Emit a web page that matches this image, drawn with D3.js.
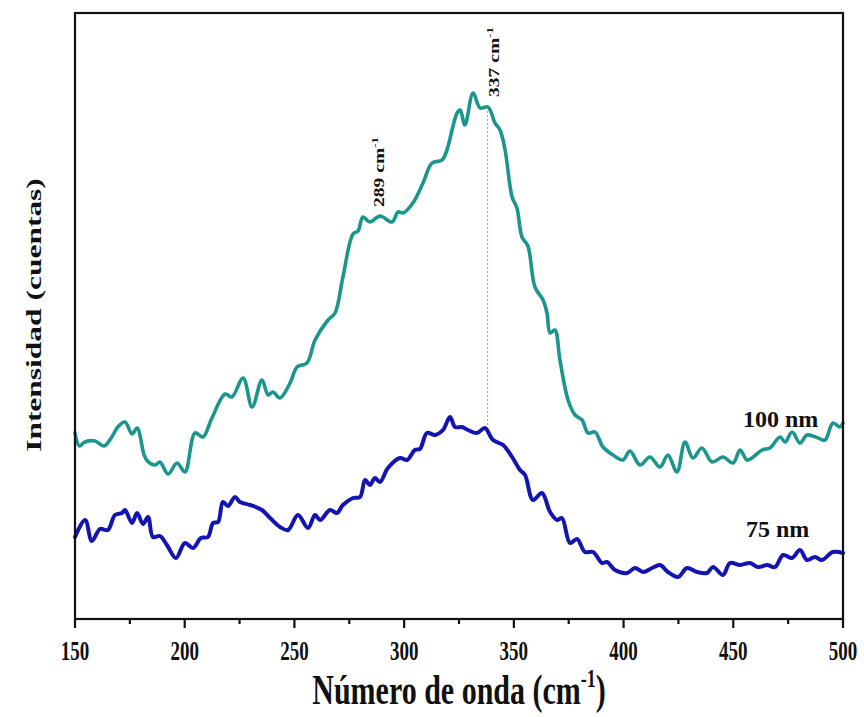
<!DOCTYPE html>
<html><head><meta charset="utf-8">
<script src="https://cdn.jsdelivr.net/npm/d3@7"></script>
<style>body{margin:0;background:#fff}</style>
</head><body>
<svg id="c" width="864" height="717"></svg>
<script>
// ---------- data ----------
const xTicks = [150, 200, 250, 300, 350, 400, 450, 500];
const xMinorTicks = [175, 225, 275, 325, 375, 425, 475];

const wn100 = [150.0,152.0,154.5,159.1,163.2,166.5,169.5,172.8,176.0,178.3,181.5,183.0,186.5,188.7,192.4,196.5,200.1,204.7,208.3,212.4,218.4,221.5,226.6,230.7,235.2,238.0,240.2,243.4,248.0,251.2,255.7,259.4,265.3,268.5,272.1,276.7,279.0,281.2,284.4,289.0,294.5,297.2,299.5,304.0,308.6,312.7,317.3,319.5,324.1,325.5,327.7,331.4,334.6,338.2,341.4,343.7,346.0,349.2,351.4,353.7,356.4,359.6,363.3,365.1,366.5,368.7,371.0,374.7,377.9,381.1,383.8,387.0,390.6,395.2,399.7,402.9,407.5,412.0,416.6,420.2,424.3,428.0,431.6,435.7,440.3,445.3,449.9,453.1,456.2,458.5,463.1,466.7,471.3,473.6,476.8,480.4,483.6,488.6,491.8,495.4,498.6,500.0];
const counts100 = [186,173,177,178,173,181,192,197,185,191,164,158,154,157,145,156,147,186,182,201,225,222,241,212,239,224,227,221,236,252,256,279,299,306,342,385,388,402,397,403,397,407,406,416,436,456,459,469,506,509,494,526,511,512,496,489,469,422,411,382,373,332,319,306,286,289,259,219,204,199,186,187,172,164,159,168,154,162,152,164,147,177,161,171,157,162,156,169,159,161,169,171,182,177,187,176,184,181,179,196,192,196];

const wn75 = [150.0,154.6,157.7,161.4,165.0,168.2,171.4,172.8,176.0,178.3,181.0,183.3,185.5,188.7,191.9,196.0,200.1,203.8,207.4,210.6,212.9,215.2,217.4,219.7,222.9,225.2,229.8,235.2,238.9,243.4,247.1,251.6,256.2,259.4,261.7,266.2,269.4,272.1,276.7,279.9,282.2,284.4,286.7,289.0,292.6,298.1,301.3,304.9,307.2,310.4,314.1,317.7,320.9,323.2,326.4,329.1,333.2,336.8,340.5,345.1,349.2,352.8,355.1,358.7,362.8,366.5,369.7,371.9,375.6,378.8,382.4,386.1,390.2,392.5,396.1,401.6,405.2,408.9,413.0,416.6,420.2,424.8,428.9,433.5,438.0,440.8,445.3,448.5,453.1,457.6,461.3,465.4,469.0,472.7,476.8,480.4,483.6,487.2,490.4,495.4,500.0];
const counts75 = [82,99,78,90,89,104,106,109,96,106,95,102,82,83,74,61,76,71,81,82,96,97,117,113,122,117,114,109,101,92,89,104,91,104,99,109,106,114,121,122,139,134,141,137,151,161,159,169,170,186,184,189,202,192,192,189,186,191,179,174,162,149,144,119,126,107,99,101,76,80,67,67,56,57,49,46,51,47,51,54,47,42,51,47,46,52,44,56,54,56,52,54,52,64,61,69,59,62,59,67,66];

const seriesNames = ["100 nm", "75 nm"];
const seriesColors = ["#1b968d", "#1414b0"];
const peakValues = [289, 337];
const peakLineAt = 338;

// ---------- layout ----------
const svg = d3.select("#c");
const L = 75, R = 843, T = 13, B = 619;
const x = d3.scaleLinear().domain([150, 500]).range([L, R]);
const y = d3.scaleLinear().domain([0, 606]).range([B, T]);
const serif = "'Liberation Serif','Times New Roman',serif";

const series = [
  {name: seriesNames[0], color: seriesColors[0], pts: wn100.map((w, i) => [w, counts100[i]])},
  {name: seriesNames[1], color: seriesColors[1], pts: wn75.map((w, i) => [w, counts75[i]])}
];

function interp(pts, w) {
  for (let i = 1; i < pts.length; i++) {
    if (pts[i][0] >= w) {
      const [x0, y0] = pts[i - 1], [x1, y1] = pts[i];
      return y0 + (y1 - y0) * (w - x0) / (x1 - x0);
    }
  }
  return pts[pts.length - 1][1];
}

// dotted guide line
svg.append("line")
  .attr("x1", x(peakLineAt)).attr("x2", x(peakLineAt))
  .attr("y1", y(interp(series[0].pts, peakLineAt)))
  .attr("y2", y(interp(series[1].pts, peakLineAt)))
  .attr("stroke", "#aaa").attr("stroke-width", 1.2)
  .attr("stroke-dasharray", "2,2");

const line = d3.line().x(d => x(d[0])).y(d => y(d[1])).curve(d3.curveCatmullRom.alpha(0.5));
series.forEach((s, i) => {
  svg.append("path").datum(s.pts)
    .attr("d", line)
    .attr("fill", "none")
    .attr("stroke", s.color)
    .attr("stroke-width", i === 0 ? 3.6 : 4)
    .attr("stroke-linejoin", "round")
    .attr("stroke-linecap", "round");
});

// frame
svg.append("rect")
  .attr("x", L).attr("y", T).attr("width", R - L).attr("height", B - T)
  .attr("fill", "none").attr("stroke", "#111").attr("stroke-width", 2.2);

// bottom axis ticks
const gx = svg.append("g").attr("transform", `translate(0,${B})`);
gx.selectAll("line.maj").data(xTicks).join("line")
  .attr("x1", d => x(d)).attr("x2", d => x(d)).attr("y1", 0).attr("y2", 9)
  .attr("stroke", "#111").attr("stroke-width", 2.2);
gx.selectAll("line.min").data(xMinorTicks).join("line")
  .attr("x1", d => x(d)).attr("x2", d => x(d)).attr("y1", 0).attr("y2", 5)
  .attr("stroke", "#111").attr("stroke-width", 2.2);
gx.selectAll("text").data(xTicks).join("text")
  .attr("transform", d => `translate(${x(d)},41) scale(1,1.45)`)
  .attr("text-anchor", "middle")
  .attr("font-family", serif).attr("font-weight", "bold").attr("font-size", 19)
  .attr("fill", "#111")
  .text(d => d);

// x title
const xt = svg.append("text")
  .attr("transform", `translate(459,704) scale(1,1.42)`)
  .attr("text-anchor", "middle")
  .attr("font-family", serif).attr("font-weight", "bold").attr("font-size", 30)
  .attr("fill", "#111");
xt.append("tspan").text("Número de onda (cm");
xt.append("tspan").attr("font-size", 18).attr("dy", -12).text("-1");
xt.append("tspan").attr("dy", 12).text(")");

// y title
svg.append("text")
  .attr("transform", `translate(41,315) scale(1,1.5) rotate(-90)`)
  .attr("text-anchor", "middle")
  .attr("font-family", serif).attr("font-weight", "bold").attr("font-size", 21)
  .attr("fill", "#111")
  .text("Intensidad (cuentas)");

// series labels
svg.append("text").attr("x", 743).attr("y", 427)
  .attr("font-family", serif).attr("font-weight", "bold").attr("font-size", 24)
  .attr("fill", "#111").text(seriesNames[0]);
svg.append("text").attr("x", 746).attr("y", 537)
  .attr("font-family", serif).attr("font-weight", "bold").attr("font-size", 24)
  .attr("fill", "#111").text(seriesNames[1]);

// peak labels
const peakAnchors = [[x(peakValues[0]) + 4, 207], [x(peakLineAt) + 11, 97]];
peakValues.forEach((p, i) => {
  const t = svg.append("text")
    .attr("transform", `translate(${peakAnchors[i][0]},${peakAnchors[i][1]}) scale(1,1.4) rotate(-90)`)
    .attr("font-family", serif).attr("font-weight", "bold").attr("font-size", 14)
    .attr("fill", "#111");
  t.append("tspan").text(p + " cm");
  t.append("tspan").attr("font-size", 9).attr("dy", -6).text("-1");
});
</script>
</body></html>
